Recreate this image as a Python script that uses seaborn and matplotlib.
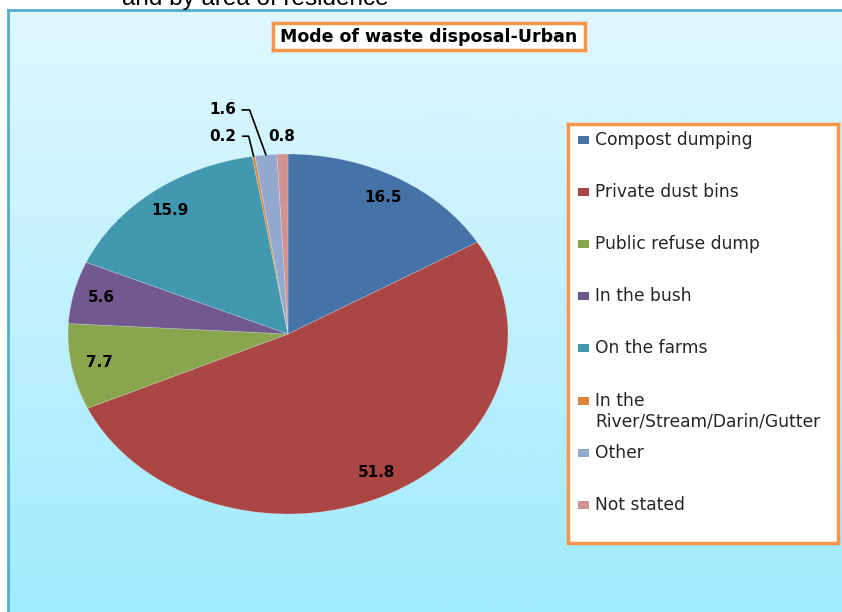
import numpy as np
import matplotlib
matplotlib.use('Agg')
import matplotlib.pyplot as plt
from matplotlib.patches import Rectangle
from matplotlib.colors import LinearSegmentedColormap
import seaborn as sns

# Data
categories = ['Compost dumping', 'Private dust bins', 'Public refuse dump', 'In the bush',
              'On the farms', 'In the\nRiver/Stream/Darin/Gutter', 'Other', 'Not stated']
values = [16.5, 51.8, 7.7, 5.6, 15.9, 0.2, 1.6, 0.8]
value_labels = ['16.5', '51.8', '7.7', '5.6', '15.9', '0.2', '1.6', '0.8']
slice_colors = ['#4572A7', '#AA4643', '#89A54E', '#71588F', '#4198AF', '#DB843D', '#93A9CF', '#D19392']

sns.set_style('white')
palette = sns.color_palette(slice_colors)

W, H = 842, 612
fig = plt.figure(figsize=(W / 100, H / 100), dpi=100)
fig.patch.set_facecolor('white')

def fbox(x0, y0, x1, y1):
    # pixel box (top-left origin) -> figure fraction rect
    return [x0 / W, 1 - y1 / H, (x1 - x0) / W, (y1 - y0) / H]

# cut-off heading from the page above the chart
fig.text(122 / W, 1 - 5 / H, 'and by area of residence', fontsize=17.5,
         family='Liberation Sans', va='baseline', ha='left', color='black')

# chart area with light blue gradient
bg = fig.add_axes(fbox(8, 10, W + 5, H + 5))
grad = np.linspace(0, 1, 256).reshape(-1, 1)
cmap = LinearSegmentedColormap.from_list('bg', ['#E0F7FE', '#A0EBFE'])
bg.imshow(grad, aspect='auto', cmap=cmap, extent=[0, 1, 0, 1], origin='upper')
bg.set_xlim(0, 1)
bg.set_ylim(0, 1)
bg.set_xticks([])
bg.set_yticks([])
for s in ['right', 'bottom']:
    bg.spines[s].set_visible(False)
for s in ['left', 'top']:
    bg.spines[s].set_color('#4FAEC8')
    bg.spines[s].set_linewidth(2)

# pie (stretched horizontally like the original)
ax = fig.add_axes(fbox(68, 154, 508, 514))
wedges, _ = ax.pie(values, colors=palette, startangle=90, counterclock=False,
                   radius=1, wedgeprops=dict(edgecolor=(1, 1, 1, 0.3), linewidth=0.5))
ax.set_aspect('auto')
ax.set_xlim(-1, 1)
ax.set_ylim(-1, 1)
ax.axis('off')

label_font = dict(fontsize=11, fontweight='bold', family='DejaVu Sans', color='black')
for i, w in enumerate(wedges):
    mid = np.deg2rad((w.theta1 + w.theta2) / 2)
    if values[i] >= 5:
        r = 0.87
        ax.text(r * np.cos(mid), r * np.sin(mid), value_labels[i],
                ha='center', va='center', **label_font)

# small slices with leader lines
offsets = {5: (-17, 20, 104), 6: (-30, 45, 110)}
for i, (dx, dy, angB) in offsets.items():
    w = wedges[i]
    mid = np.deg2rad((w.theta1 + w.theta2) / 2)
    ax.annotate(value_labels[i], xy=(np.cos(mid), np.sin(mid)), xytext=(dx, dy),
                textcoords='offset pixels', ha='right', va='center',
                arrowprops=dict(arrowstyle='-', color='black', lw=1.2, shrinkA=2, shrinkB=0,
                                relpos=(1, 0.5),
                                connectionstyle='angle,angleA=0,angleB=%d,rad=0' % angB),
                **label_font)
w = wedges[7]
mid = np.deg2rad((w.theta1 + w.theta2) / 2)
ax.text(1.1 * np.cos(mid), 1.1 * np.sin(mid), value_labels[7], ha='center', va='center', **label_font)

# title box
tb = fig.add_axes(fbox(273, 23, 585, 50))
tb.set_facecolor('white')
tb.set_xticks([])
tb.set_yticks([])
for s in tb.spines.values():
    s.set_color('#F79646')
    s.set_linewidth(2.5)
tb.text(0.5, 0.5, 'Mode of waste disposal-Urban', ha='center', va='center',
        transform=tb.transAxes, fontsize=12.5, fontweight='bold', family='DejaVu Sans',
        color='black')

# legend box
lg = fig.add_axes(fbox(568, 124, 838, 543))
lg.set_xlim(0, 270)
lg.set_ylim(419, 0)
lg.set_facecolor('white')
lg.set_xticks([])
lg.set_yticks([])
for s in lg.spines.values():
    s.set_color('#F79646')
    s.set_linewidth(2.5)
step = 52.1
for i, lab in enumerate(categories):
    yc = 16 + step * i
    lg.add_patch(Rectangle((10, yc - 4), 11, 8, facecolor=palette[i], edgecolor='none'))
    if '\n' in lab:
        lg.text(27, yc - 9, lab, ha='left', va='top', fontsize=12.3, family='DejaVu Sans',
                color='#262626', linespacing=1.2)
    else:
        lg.text(27, yc, lab, ha='left', va='center', fontsize=12.3, family='DejaVu Sans',
                color='#262626')

fig.savefig('out.png', dpi=100)
